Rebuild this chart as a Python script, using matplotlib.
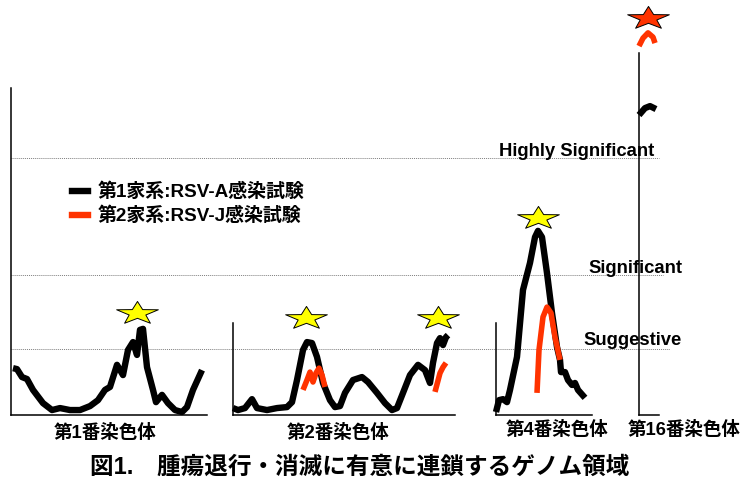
import numpy as np
import matplotlib
matplotlib.use('Agg')
import matplotlib.pyplot as plt
from matplotlib.path import Path
from matplotlib.lines import Line2D

plt.rcParams['font.family'] = ['Liberation Sans', 'Noto Sans CJK JP']
plt.rcParams['font.weight'] = 'bold'

BLACK = '#000000'
RED = '#FF3300'

# LOD thresholds
suggestive = 2.0
significant = 4.24
highly_significant = 7.8

# chromosome 1 (family 1 only)
chr1_pos = [2, 6, 11, 16, 22, 32, 41, 49, 59, 69, 79, 87, 94, 99, 106, 112, 117, 122,
            126, 129, 132, 136, 142, 145, 151, 157, 164, 171, 176, 182, 191]
chr1_lod_a = [1.42, 1.39, 1.15, 1.09, 0.76, 0.36, 0.15, 0.21, 0.15, 0.15, 0.27, 0.45, 0.76,
              0.85, 1.52, 1.21, 1.97, 2.21, 1.82, 2.58, 2.61, 1.45, 0.76, 0.39, 0.61, 0.36,
              0.15, 0.09, 0.24, 0.76, 1.36]
chr1_star_pos = [126]
chr1_star_lod = [3.09]

# chromosome 2
chr2_pos = [0, 5, 12, 19, 24, 34, 44, 54, 59, 64, 70, 74, 79, 84, 90, 97, 102, 107, 112,
            120, 129, 135, 144, 152, 159, 164, 170, 177, 185, 192, 197, 200, 204, 207, 210,
            213, 215]
chr2_lod_a = [0.21, 0.15, 0.21, 0.48, 0.21, 0.15, 0.21, 0.24, 0.39, 1.06, 1.97, 2.21, 2.18,
              1.76, 0.97, 0.45, 0.24, 0.27, 0.67, 1.06, 1.15, 1.0, 0.67, 0.36, 0.15, 0.21,
              0.67, 1.21, 1.52, 1.36, 0.97, 1.58, 2.18, 2.33, 2.12, 2.36, 2.42]
chr2_pos_j1 = [70, 74, 77, 80, 83, 86, 89, 92]
chr2_lod_j1 = [0.76, 1.06, 1.30, 1.0, 1.27, 1.42, 1.21, 0.85]
chr2_pos_j2 = [202, 207, 210, 213]
chr2_lod_j2 = [0.70, 1.27, 1.45, 1.58]
chr2_star_pos = [73, 205]
chr2_star_lod = [2.94, 2.94]

# chromosome 4
chr4_pos = [0, 3, 7, 11, 14, 21, 27, 34, 39, 42, 46, 51, 56, 61, 64, 65, 69, 72, 76, 79,
            82, 89]
chr4_lod_a = [0.09, 0.45, 0.48, 0.39, 0.76, 1.76, 3.79, 4.61, 5.39, 5.58, 5.39, 4.30, 3.09,
              2.06, 1.67, 1.30, 1.30, 1.06, 0.91, 0.97, 0.76, 0.52]
chr4_pos_j = [41, 43, 47, 51, 55, 59, 64]
chr4_lod_j = [0.67, 1.97, 2.97, 3.27, 3.09, 2.36, 1.67]
chr4_star_pos = [42]
chr4_star_lod = [5.97]

# chromosome 16
chr16_pos_a = [0, 6, 11, 17]
chr16_lod_a = [9.09, 9.30, 9.36, 9.27]
chr16_pos_j = [0, 4, 9, 14, 16]
chr16_lod_j = [11.18, 11.42, 11.58, 11.45, 11.27]
chr16_star_pos = [9]
chr16_star_lod = [12.03]

legend_labels = ['第1家系:RSV-A感染試験', '第2家系:RSV-J感染試験']
title = '図1.\u3000腫瘍退行・消滅に有意に連鎖するゲノム領域'

# layout in pixels
W, H = 744, 482
BASE = 415          # pixel row of the x axes
PX_PER_LOD = 33.0
LOD_TOP = BASE / PX_PER_LOD


def box(left, right):
    return [left / W, 1 - BASE / H, (right - left) / W, BASE / H]


# flattened five-point star used for the peak markers
ang = np.pi / 2 + np.arange(10) * np.pi / 5
rad = np.where(np.arange(10) % 2 == 0, 1.0, 0.4)
star_verts = np.column_stack([rad * np.cos(ang), 0.55 * rad * np.sin(ang)])
star_verts = np.vstack([star_verts, star_verts[:1]])
star = Path(star_verts, closed=True)

fig = plt.figure(figsize=(W / 100, H / 100), dpi=100)

# threshold lines across all chromosomes
bg = fig.add_axes(box(0, W))
bg.set_xlim(0, W)
bg.set_ylim(0, LOD_TOP)
bg.axis('off')
for lod, x_end, name, x_txt, dy in [(highly_significant, 659, 'Highly Significant', 499, 2),
                                    (significant, 663, 'Significant', 588, 2),
                                    (suggestive, 670, 'Suggestive', 583, 4)]:
    bg.hlines(lod, 11, x_end, colors='#7f7f7f', linewidth=0.7, linestyles=(0, (1, 1)))
    bg.text(x_txt, lod + dy / PX_PER_LOD, name, fontsize=13.3, fontweight='bold',
            ha='left', va='baseline')


def panel(left, right, xmax, ytop):
    ax = fig.add_axes(box(left, right))
    ax.set_facecolor('none')
    ax.set_xlim(0, xmax)
    ax.set_ylim(0, LOD_TOP)
    ax.spines['top'].set_visible(False)
    ax.spines['right'].set_visible(False)
    ax.spines['left'].set_bounds(0, ytop)
    for s in ('left', 'bottom'):
        ax.spines[s].set_linewidth(1.1)
    ax.set_xticks([])
    ax.set_yticks([])
    return ax


def curve(ax, x, y, color, lw=4.6):
    ax.plot(x, y, color=color, linewidth=lw, solid_joinstyle='round',
            solid_capstyle='butt', clip_on=False)


def stars(ax, x, y, color):
    ax.plot(x, y, linestyle='none', marker=star, markersize=30, markerfacecolor=color,
            markeredgecolor='black', markeredgewidth=0.7, clip_on=False)


ax1 = panel(11, 207, 196, (BASE - 88) / PX_PER_LOD)
curve(ax1, chr1_pos, chr1_lod_a, BLACK)
stars(ax1, chr1_star_pos, chr1_star_lod, '#FFFF00')

ax2 = panel(233, 455, 222, (BASE - 323) / PX_PER_LOD)
curve(ax2, chr2_pos, chr2_lod_a, BLACK)
curve(ax2, chr2_pos_j1, chr2_lod_j1, RED, 4.0)
curve(ax2, chr2_pos_j2, chr2_lod_j2, RED, 4.0)
stars(ax2, chr2_star_pos, chr2_star_lod, '#FFFF00')

ax4 = panel(496, 592, 96, (BASE - 323) / PX_PER_LOD)
curve(ax4, chr4_pos, chr4_lod_a, BLACK)
curve(ax4, chr4_pos_j, chr4_lod_j, RED, 4.0)
stars(ax4, chr4_star_pos, chr4_star_lod, '#FFFF00')

ax16 = panel(639, 659, 20, (BASE - 53) / PX_PER_LOD)
curve(ax16, chr16_pos_a, chr16_lod_a, BLACK)
curve(ax16, chr16_pos_j, chr16_lod_j, RED, 4.0)
stars(ax16, chr16_star_pos, chr16_star_lod, RED)

# chromosome names
for name, xc, yc in [('第1番染色体', 105, 433), ('第2番染色体', 338, 433),
                     ('第4番染色体', 557, 430), ('第16番染色体', 684, 430)]:
    fig.text(xc / W, 1 - yc / H, name, fontsize=13.3, fontweight='bold',
             ha='center', va='center')

handles = [Line2D([], [], color=BLACK, linewidth=4.6),
           Line2D([], [], color=RED, linewidth=4.6)]
fig.legend(handles, legend_labels, loc='center left', bbox_to_anchor=(72 / W, 1 - 204 / H),
           frameon=False, fontsize=13.6, handlelength=0.85, handletextpad=0.5,
           labelspacing=0.3, borderpad=0, borderaxespad=0)

fig.text(360 / W, 1 - 467 / H, title, fontsize=17, fontweight='bold',
         ha='center', va='center')

fig.savefig('out.png', dpi=100)
